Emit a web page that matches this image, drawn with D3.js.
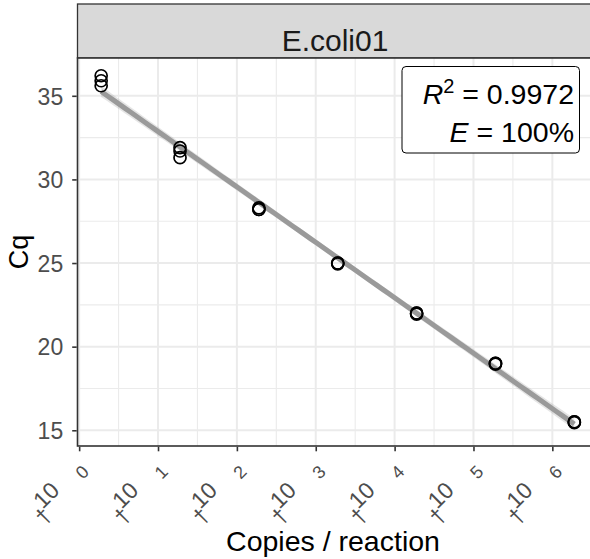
<!DOCTYPE html>
<html>
<head>
<meta charset="utf-8">
<script src="https://cdn.jsdelivr.net/npm/d3@7"></script>
<style>
  body { margin: 0; background: #fff; }
  text { font-family: "Liberation Sans", Arial, sans-serif; }
</style>
</head>
<body>
<div id="chart"></div>
<script>
// data
var panelTitle = "E.coli01";
var log10Copies = [0.279, 0.279, 0.279, 1.279, 1.279, 1.279, 2.279, 2.279, 2.279,
                   3.279, 3.279, 3.279, 4.279, 4.279, 4.279, 5.279, 5.279, 5.279,
                   6.279, 6.279, 6.279];
var cqValues = [36.2, 35.9, 35.6, 31.9, 31.7, 31.3, 28.3, 28.2, 28.2,
                25.0, 25.0, 24.95, 22.0, 21.95, 22.0, 19.0, 18.95, 19.0,
                15.5, 15.45, 15.5];
var xTicks = [0, 1, 2, 3, 4, 5, 6];
var yTicks = [15, 20, 25, 30, 35];
var statLabels = ["0.9972", "100%"];

var svgWidth = 590, svgHeight = 559;
var margin = {top: 58, right: -8, bottom: 113, left: 77.5};
var stripTop = 4;
var width = svgWidth - margin.left - margin.right,
    height = svgHeight - margin.top - margin.bottom;

var xscale = d3.scaleLinear().domain([-0.021, 6.579]).range([margin.left, margin.left + width]);
var yscale = d3.scaleLinear().domain([14.06, 37.26]).range([margin.top + height, margin.top]);

var svg = d3.select("#chart").append("svg")
  .attr("width", svgWidth)
  .attr("height", svgHeight);

// strip
svg.append("rect")
  .attr("x", margin.left).attr("y", stripTop)
  .attr("width", width).attr("height", margin.top - stripTop)
  .attr("fill", "#d9d9d9").attr("stroke", "#333").attr("stroke-width", 1.3);
svg.append("text")
  .attr("x", 335).attr("y", 50.5)
  .attr("text-anchor", "middle").attr("font-size", 30).attr("fill", "#1a1a1a")
  .text(panelTitle);

// panel
svg.append("rect")
  .attr("x", margin.left).attr("y", margin.top)
  .attr("width", width).attr("height", height).attr("fill", "#fff");

var grid = svg.append("g");
var xMinor = d3.range(0.5, 7, 1).filter(d => d < xscale.domain()[1]);
var yMinor = [17.5, 22.5, 27.5, 32.5];
grid.selectAll(".xminor").data(xMinor).enter().append("line")
  .attr("x1", d => xscale(d)).attr("x2", d => xscale(d))
  .attr("y1", margin.top).attr("y2", margin.top + height)
  .attr("stroke", "#ebebeb").attr("stroke-width", 1.1);
grid.selectAll(".yminor").data(yMinor).enter().append("line")
  .attr("y1", d => yscale(d)).attr("y2", d => yscale(d))
  .attr("x1", margin.left).attr("x2", margin.left + width)
  .attr("stroke", "#ebebeb").attr("stroke-width", 1.1);
grid.selectAll(".xmajor").data(xTicks).enter().append("line")
  .attr("x1", d => xscale(d)).attr("x2", d => xscale(d))
  .attr("y1", margin.top).attr("y2", margin.top + height)
  .attr("stroke", "#ebebeb").attr("stroke-width", 2);
grid.selectAll(".ymajor").data(yTicks).enter().append("line")
  .attr("y1", d => yscale(d)).attr("y2", d => yscale(d))
  .attr("x1", margin.left).attr("x2", margin.left + width)
  .attr("stroke", "#ebebeb").attr("stroke-width", 2);

// linear fit with confidence band
var n = log10Copies.length;
var xbar = d3.mean(log10Copies), ybar = d3.mean(cqValues);
var sxx = d3.sum(log10Copies, d => (d - xbar) * (d - xbar));
var sxy = d3.sum(log10Copies, (d, i) => (d - xbar) * (cqValues[i] - ybar));
var slope = sxy / sxx, intercept = ybar - slope * xbar;
var sse = d3.sum(log10Copies, (d, i) => Math.pow(cqValues[i] - (intercept + slope * d), 2));
var s = Math.sqrt(sse / (n - 2)), tq = 2.093;
var xs = d3.range(80).map(i => d3.min(log10Copies) + i * (d3.max(log10Copies) - d3.min(log10Copies)) / 79);
var fit = xs.map(x => {
  var yhat = intercept + slope * x;
  var se = s * Math.sqrt(1 / n + (x - xbar) * (x - xbar) / sxx);
  return {x: x, y: yhat, lo: yhat - tq * se, hi: yhat + tq * se};
});
svg.append("path").datum(fit)
  .attr("d", d3.area().x(d => xscale(d.x)).y0(d => yscale(d.lo)).y1(d => yscale(d.hi)))
  .attr("fill", "#999").attr("opacity", 0.25);
svg.append("path").datum(fit)
  .attr("d", d3.line().x(d => xscale(d.x)).y(d => yscale(d.y)))
  .attr("fill", "none").attr("stroke", "#9a9a9a").attr("stroke-width", 5);

// points
svg.selectAll(".pt").data(cqValues).enter().append("circle")
  .attr("cx", (d, i) => xscale(log10Copies[i]))
  .attr("cy", d => yscale(d))
  .attr("r", 6)
  .attr("fill", "none").attr("stroke", "#000").attr("stroke-width", 1.7);

// stats box
var box = svg.append("g");
box.append("rect")
  .attr("x", 402).attr("y", 66.5).attr("width", 177.5).attr("height", 86.5)
  .attr("rx", 4).attr("fill", "#fff").attr("stroke", "#000").attr("stroke-width", 1);
var t1 = box.append("text").attr("x", 574).attr("y", 104).attr("text-anchor", "end")
  .attr("font-size", 28.5).attr("fill", "#000");
t1.append("tspan").attr("font-style", "italic").text("R");
t1.append("tspan").attr("font-size", 20).attr("dy", -11).text("2");
t1.append("tspan").attr("dy", 11).text(" = " + statLabels[0]);
var t2 = box.append("text").attr("x", 574).attr("y", 142).attr("text-anchor", "end")
  .attr("font-size", 28.5).attr("fill", "#000");
t2.append("tspan").attr("font-style", "italic").text("E");
t2.append("tspan").text(" = " + statLabels[1]);

// panel border (left, top, bottom visible)
svg.append("rect")
  .attr("x", margin.left).attr("y", margin.top)
  .attr("width", width).attr("height", height)
  .attr("fill", "none").attr("stroke", "#333").attr("stroke-width", 1.6);

// y axis
var yAxis = d3.axisLeft(yscale).tickValues(yTicks).tickSize(4.5).tickPadding(9);
var gy = svg.append("g").attr("transform", "translate(" + (margin.left - 0.8) + ",0)").call(yAxis);
gy.select(".domain").remove();
gy.selectAll(".tick line").attr("stroke", "#333").attr("stroke-width", 1.6);
gy.selectAll(".tick text").attr("font-size", 23).attr("fill", "#4d4d4d")
  .attr("font-family", "Liberation Sans, Arial, sans-serif").attr("dy", "0.36em");

// x axis
var xAxis = d3.axisBottom(xscale).tickValues(xTicks).tickSize(4.5).tickFormat("");
var gx = svg.append("g").attr("transform", "translate(0," + (margin.top + height + 0.8) + ")").call(xAxis);
gx.select(".domain").remove();
gx.selectAll(".tick line").attr("stroke", "#333").attr("stroke-width", 1.6);

var labs = svg.append("g").selectAll("g").data(xTicks).enter().append("g");
labs.append("text")
  .attr("transform", d => "translate(" + (xscale(d) + 3) + ",472) rotate(-45)")
  .attr("text-anchor", "middle").attr("dy", "0.35em").attr("font-size", 18).attr("fill", "#4d4d4d")
  .text(d => d);
labs.append("text")
  .attr("transform", d => "translate(" + (xscale(d) - 33) + ",495) rotate(-45)")
  .attr("text-anchor", "middle").attr("dy", "0.35em").attr("font-size", 23).attr("fill", "#4d4d4d")
  .text("10");
labs.append("text")
  .attr("transform", d => "translate(" + (xscale(d) - 36) + ",516) rotate(-45)")
  .attr("text-anchor", "middle").attr("dy", "0.35em").attr("font-size", 22).attr("fill", "#4d4d4d")
  .text("\u2020");

// axis titles
svg.append("text")
  .attr("x", 333).attr("y", 551).attr("text-anchor", "middle")
  .attr("font-size", 28.5).attr("fill", "#000").text("Copies / reaction");
svg.append("text")
  .attr("transform", "translate(28,252) rotate(-90)")
  .attr("text-anchor", "middle").attr("font-size", 27).attr("fill", "#000").text("Cq");
</script>
</body>
</html>
